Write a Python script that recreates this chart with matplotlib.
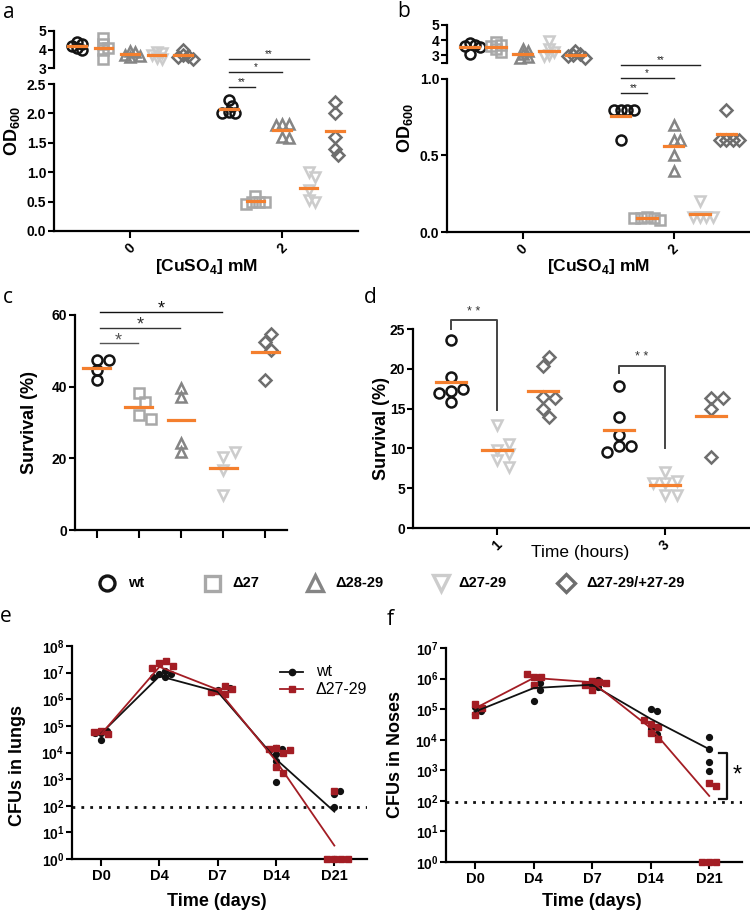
import numpy as np
import matplotlib
matplotlib.use('Agg')
import matplotlib.pyplot as plt

plt.rcParams['font.family'] = ['Liberation Sans', 'DejaVu Sans']
plt.rcParams['font.weight'] = 'bold'
plt.rcParams['mathtext.fontset'] = 'custom'
plt.rcParams['mathtext.rm'] = 'Liberation Sans'
plt.rcParams['mathtext.bf'] = 'Liberation Sans:bold'
plt.rcParams['axes.linewidth'] = 1.6
plt.rcParams['xtick.major.width'] = 1.5
plt.rcParams['ytick.major.width'] = 1.5
plt.rcParams['xtick.major.size'] = 5
plt.rcParams['ytick.major.size'] = 4
plt.rcParams['xtick.labelsize'] = 10
plt.rcParams['ytick.labelsize'] = 10
plt.rcParams['xtick.major.pad'] = 2
plt.rcParams['ytick.major.pad'] = 1.5

W, H = 750, 914

# --- datos ---
strains = ['wt', 'Δ27', 'Δ28-29', 'Δ27-29', 'Δ27-29/+27-29']
marks = ['o', 's', '^', 'v', 'D']
greys = ['#141414', '#a8a8a8', '#858585', '#cccccc', '#6e6e6e']
msizes = [7.2, 7.2, 7.6, 7.6, 6.0]
ORANGE = '#f47f2e'
RED = '#a31d24'

cu_doses = ['0', '2']
# a: OD600, una lista por cepa
a_0mM = [[4.4, 4.3, 4.2, 4.1, 4.0], [4.6, 4.3, 4.0, 4.1, 3.5], [3.9, 3.85, 3.7, 3.65, 3.6],
         [3.85, 3.8, 3.7, 3.55, 3.5], [4.0, 3.7, 3.65, 3.6, 3.5]]
a_2mM = [[2.22, 2.12, 2.02, 2.0, 2.0], [0.6, 0.5, 0.5, 0.5, 0.46], [1.82, 1.82, 1.8, 1.6, 1.58],
         [1.0, 0.92, 0.7, 0.52, 0.5], [2.2, 2.0, 1.6, 1.4, 1.3]]
# b: OD600
b_0mM = [[3.8, 3.7, 3.65, 3.55, 3.1], [3.85, 3.7, 3.6, 3.4, 3.25], [3.45, 3.3, 3.1, 2.9, 2.8],
         [3.95, 3.4, 3.2, 3.0, 2.95], [3.3, 3.1, 3.0, 2.95, 2.85]]
b_2mM = [[0.8, 0.8, 0.8, 0.8, 0.6], [0.1, 0.09, 0.09, 0.08, 0.09], [0.7, 0.6, 0.6, 0.5, 0.4],
         [0.2, 0.1, 0.1, 0.1, 0.1], [0.8, 0.6, 0.6, 0.6, 0.6]]
# c: supervivencia (%)
c_surv = [[47.4, 47.4, 44.6, 41.8], [38.2, 35.7, 32.2, 31.0], [39.7, 37.1, 24.3, 21.7],
          [20.5, 21.9, 16.8, 9.7], [52.5, 54.7, 50.2, 41.8]]
# d: supervivencia (%) a 1 h y 3 h
d_hours = ['1', '3']
d_strains = [0, 3, 4]
d_surv = [
    [[23.6, 19.0, 17.2, 17.4, 16.9, 15.8], [13.0, 9.8, 10.6, 9.3, 8.5, 7.7], [20.4, 21.5, 16.5, 16.3, 14.9, 13.9]],
    [[17.9, 13.9, 11.7, 10.3, 10.3, 9.5], [7.0, 5.7, 5.9, 5.6, 4.1, 4.2], [16.3, 16.3, 14.9, 8.9]],
]
# e, f: CFUs por día
days = ['D0', 'D4', 'D7', 'D14', 'D21']
e_wt = [[5.5e4, 3.0e4, 6.5e4, 5.5e4], [8.7e6, 1.2e7, 6.9e6, 7.0e6, 9e6], [2.2e6, 1.55e6, 1.9e6, 2.6e6],
        [8.5e3, 4.8e3, 1.4e4, 8.1e2, 1.5e4], [270, 370, 93, 1]]
e_ko = [[6.6e4, 4.9e4, 5.9e4], [2.3e7, 2.7e7, 1.5e7, 1.7e7], [2.1e6, 3.2e6, 1.6e6, 1.9e6, 2.4e6],
        [1.5e4, 1.0e4, 1.3e4, 2.9e3, 1.7e3, 1.25e4], [1, 1, 1, 1, 370]]
e_wt_mean = [5.2e4, 7.4e6, 1.9e6, 5.6e3, 60]
e_ko_mean = [4.9e4, 1.65e7, 2.3e6, 4.8e3, 3.2]
f_wt = [[1.2e5, 7.0e4, 8.5e4], [6.3e5, 7.0e5, 4.3e5, 1.85e5], [6.3e5, 9.2e5, 5.5e5],
        [1.0e5, 8.9e4, 2.2e4, 1.55e4], [1.26e4, 4.9e3, 1.9e3, 980]]
f_ko = [[1.45e5, 1.05e5, 6.2e4], [1.1e6, 1.1e6, 6.3e5, 1.4e6], [8.5e5, 7.6e5, 4.3e5, 6.3e5, 7e5],
        [3.3e4, 2.6e4, 4.3e4, 1.6e4, 1.05e4], [390, 300, 1, 1, 1]]
f_wt_mean = [8.3e4, 4.9e5, 6.3e5, 4.8e4, 4.9e3]
f_ko_mean = [1.07e5, 1.05e6, 7.6e5, 2.4e4, 145]
detect_limit = 90


fig = plt.figure(figsize=(W / 100, H / 100), dpi=100)
ov = fig.add_axes([0, 0, 1, 1])
ov.set_xlim(0, W); ov.set_ylim(H, 0); ov.axis('off')


def add_ax(x0, x1, y0, y1):
    ax = fig.add_axes([x0 / W, 1 - y1 / H, (x1 - x0) / W, (y1 - y0) / H])
    ax.spines['top'].set_visible(False)
    ax.spines['right'].set_visible(False)
    ax.patch.set_alpha(0)
    return ax


def swarm(ax, xc, vals, diam, step):
    pts = ax.transData.transform([(xc, v) for v in vals])
    placed = []
    cands = [0]
    for k in range(1, 30):
        cands += [k, -k]
    for px, py in pts:
        for c in cands:
            x = px + c * step
            if all((x - qx) ** 2 + (py - qy) ** 2 >= diam ** 2 for qx, qy in placed):
                break
        placed.append((x, py))
    return ax.transData.inverted().transform(placed)[:, 0]


def dots(ax, xc, vals, i, diam=7, step=3.5):
    xs = swarm(ax, xc, vals, diam, step)
    ax.plot(xs, vals, ls='none', marker=marks[i], ms=msizes[i], mfc='none', mec=greys[i],
            mew=1.8, clip_on=False, zorder=2)


def mean_bar(ax, xc, vals, hw):
    m = np.mean(vals)
    ax.plot([xc - hw, xc + hw], [m, m], color=ORANGE, lw=2.3, zorder=3, clip_on=False)


def sig(ax, x0, x1, y, txt, fs=7, col='#222222', dy=0.0):
    ax.plot([x0, x1], [y, y], color=col, lw=1.0, clip_on=False)
    ax.text((x0 + x1) / 2, y + dy, txt, ha='center', va='bottom', fontsize=fs,
            fontweight='normal', color=col)


# --- paneles a y b (eje partido) ---
def panel_ab(xl, xr, top_px, bot_px, top_lim, top_ticks, bot_lim, bot_ticks, bot_fmt,
             d0, d2, hw, sigs):
    axt = add_ax(xl, xr, top_px[0], top_px[1])
    axb = add_ax(xl, xr, bot_px[0], bot_px[1])
    gap = 0.175
    for ax in (axt, axb):
        ax.set_xlim(-0.5, 1.5)
    axt.set_ylim(*top_lim)
    axt.set_yticks(top_ticks[0], top_ticks[1])
    axt.spines['bottom'].set_visible(False)
    axt.set_xticks([])
    axb.set_ylim(*bot_lim)
    axb.set_yticks(bot_ticks, [bot_fmt % t for t in bot_ticks])
    axb.set_xticks([0, 1], cu_doses, rotation=45, ha='center')
    for i in range(5):
        dots(axt, (i - 2) * gap, d0[i], i, diam=5, step=2.5)
        mean_bar(axt, (i - 2) * gap, d0[i], hw)
        dots(axb, 1 + (i - 2) * gap, d2[i], i, diam=6.5, step=3.25)
        mean_bar(axb, 1 + (i - 2) * gap, d2[i], hw)
    for j, (y, txt) in zip([1, 2, 3], sigs):
        sig(axb, 1 - 2 * gap, 1 + (j - 2) * gap, y, txt)
    return axt, axb


panel_ab(54, 358, (31, 68), (84, 231), (3, 5), ([3, 4, 5], ['3', '4', '5']),
         (0, 2.5), [0, 0.5, 1.0, 1.5, 2.0, 2.5], '%.1f', a_0mM, a_2mM, 0.058,
         [(2.45, '**'), (2.70, '*'), (2.93, '**')])
panel_ab(447, 749, (25, 63), (79, 232), (2.5, 5), ([2.5, 3, 4, 5], ['', '3', '4', '5']),
         (0, 1.0), [0, 0.5, 1.0], '%.1f', b_0mM, b_2mM, 0.065,
         [(0.91, '**'), (1.005, '*'), (1.09, '**')])

ov.text(12, 131, r'$\mathbf{OD}_{\mathbf{600}}$', rotation=90, ha='center', va='center', fontsize=13)
ov.text(405, 128, r'$\mathbf{OD}_{\mathbf{600}}$', rotation=90, ha='center', va='center', fontsize=13)
ov.text(206, 267, r'[CuSO$_{\mathbf{4}}$] mM', ha='center', va='center', fontsize=12.5)
ov.text(598, 267, r'[CuSO$_{\mathbf{4}}$] mM', ha='center', va='center', fontsize=12.5)

# --- panel c ---
axc = add_ax(75, 287, 315, 530)
axc.set_xlim(-0.52, 4.52)
axc.set_ylim(0, 60)
axc.set_yticks([0, 20, 40, 60])
axc.set_xticks(range(5), [''] * 5)
axc.tick_params(axis='x', length=6)
for i in range(5):
    dots(axc, i, c_surv[i], i, diam=9, step=6)
    mean_bar(axc, i, c_surv[i], 0.32)
for j, y, col in [(1, 52.1, '#555555'), (2, 56.4, '#333333'), (3, 60.8, '#111111')]:
    sig(axc, 0.07, j - 0.03, y, '*', fs=13, col=col, dy=-1.6)
ov.text(30, 422, 'Survival (%)', rotation=90, ha='center', va='center', fontsize=13)

# --- panel d ---
axd = add_ax(413, 750, 329, 528)
axd.set_xlim(-0.5, 1.506)
axd.set_ylim(0, 25)
axd.set_yticks([0, 5, 10, 15, 20, 25])
axd.set_xticks([0, 1], d_hours, rotation=45, ha='center')
dgap = 0.274
for g in range(2):
    for k, i in enumerate(d_strains):
        xc = g + (k - 1) * dgap
        dots(axd, xc, d_surv[g][k], i, diam=9, step=6)
        mean_bar(axd, xc, d_surv[g][k], 0.09)
for g, top, lb, rb in [(0, 26.1, 25.0, 14.8), (1, 20.4, 19.5, 10.0)]:
    x0, x1 = g - dgap, g
    axd.plot([x0, x0, x1, x1], [lb, top, top, rb], color='#444444', lw=1.4, clip_on=False)
    axd.text((x0 + x1) / 2, top + 0.3, '* *', ha='center', va='bottom', fontsize=9,
             fontweight='normal', color='#333333')
ov.text(381, 428, 'Survival (%)', rotation=90, ha='center', va='center', fontsize=13)
ov.text(580, 552, 'Time (hours)', ha='center', va='center', fontsize=12.5, fontweight='normal')

# --- leyenda de c/d ---
leg_mx = [107, 212, 315, 441, 566]
leg_tx = [128, 232, 335, 458, 586]
for i in range(5):
    ov.plot(leg_mx[i], 583, ls='none', marker=marks[i], ms=msizes[i] * 1.5, mfc='none',
            mec=greys[i], mew=2.4)
    ov.text(leg_tx[i], 583, strains[i], ha='left', va='center', fontsize=10.5)


# --- paneles e y f ---
def panel_cfu(xl, xr, yt, yb, top, wt, ko, wt_m, ko_m, ylab, ylx, yly, cx):
    ax = add_ax(xl, xr, yt, yb)
    ax.set_yscale('log')
    ax.set_ylim(1, 10 ** top)
    ax.set_xlim(-0.5, 4.56)
    ax.set_yticks([10.0 ** k for k in range(top + 1)],
                  [r'$\mathbf{10}^{\mathbf{%d}}$' % k for k in range(top + 1)])
    ax.minorticks_off()
    ax.set_xticks(range(5), days)
    ax.tick_params(axis='x', labelsize=10.5)
    for i in range(5):
        xs = swarm(ax, i, wt[i], 6, 6)
        ax.plot(xs, wt[i], ls='none', marker='o', ms=4.2, color='#111111', clip_on=False, zorder=3)
    for i in range(5):
        xs = swarm(ax, i, ko[i], 7, 7)
        ax.plot(xs, ko[i], ls='none', marker='s', ms=3.8, color=RED, clip_on=False, zorder=4)
    ax.plot(range(5), wt_m, color='#111111', lw=1.3, zorder=5)
    ax.plot(range(5), ko_m, color=RED, lw=1.3, zorder=5)
    ax.axhline(detect_limit, color='#111111', lw=2.0, ls=(0, (1, 2.2)), zorder=1)
    ov.text(ylx, yly, ylab, rotation=90, ha='center', va='center', fontsize=13)
    ov.text(cx, 902, 'Time (days)', ha='center', va='center', fontsize=13)
    return ax


panel_cfu(72, 367, 646, 859, 8, e_wt, e_ko, e_wt_mean, e_ko_mean, 'CFUs in lungs', 18, 765, 217)
axf = panel_cfu(446, 742, 648, 862, 7, f_wt, f_ko, f_wt_mean, f_ko_mean, 'CFUs in Noses', 395, 755, 592)
axf.plot([4.17, 4.30, 4.30, 4.17], [3800, 3800, 115, 115], color='#111111', lw=1.6, clip_on=False)
axf.text(4.47, 650, '*', ha='center', va='center', fontsize=17, fontweight='normal')

# leyenda de e
for y, col, mk, lab in [(672, '#111111', 'o', 'wt'), (689, RED, 's', 'Δ27-29')]:
    ov.plot([280, 303], [y, y], color=col, lw=1.3)
    ov.plot(291.5, y, marker=mk, ms=4.5 if mk == 'o' else 4.8, color=col)
    ov.text(316, y, lab, ha='left', va='center', fontsize=11.5, fontweight='normal')

# --- letras de panel ---
for x, y, t in [(3, 18, 'a'), (397, 17, 'b'), (3, 303, 'c'), (364, 303, 'd'), (0, 622, 'e'), (387, 625, 'f')]:
    ov.text(x, y, t, ha='left', va='baseline', fontsize=15, fontweight='normal', family='Open Sans')

fig.savefig('out.png', dpi=100)
